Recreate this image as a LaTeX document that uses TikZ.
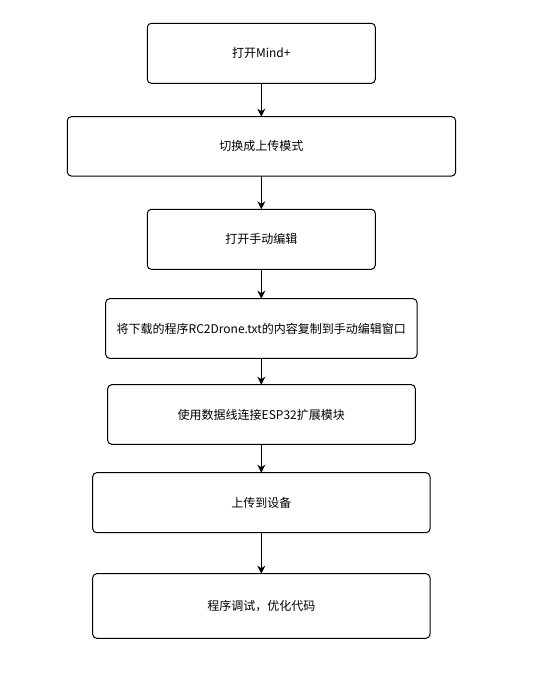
\documentclass[tikz,border=0pt]{standalone}
\usepackage{fontspec}
\setmainfont{Noto Sans CJK SC}
\usetikzlibrary{arrows.meta}
\begin{document}
\begin{tikzpicture}[x=1pt,y=-1pt,
  box/.style={draw=black, line width=1pt, rounded corners=4pt, fill=white},
  lbl/.style={font=\fontsize{12}{14}\selectfont, text=black},
  arr/.style={draw=black, line width=1pt, -{Stealth[length=8pt,width=8pt,inset=2.5pt]}}]
\useasboundingbox (0,0) rectangle (535,680);
\fill[white] (0,0) rectangle (535,680);
\draw[box] (147.3,23.3) rectangle (375.3,83.3);
\node[lbl] (n1) at (261.3,53.3) {打开Mind+};
\coordinate (b1t) at (261.3,23.3); \coordinate (b1b) at (261.3,83.3);
\draw[box] (67.3,116.7) rectangle (455.7,176);
\node[lbl] (n2) at (261.3,146.3) {切换成上传模式};
\coordinate (b2t) at (261.3,116.7); \coordinate (b2b) at (261.3,176);
\draw[box] (147.3,209.3) rectangle (375.3,269.3);
\node[lbl] (n3) at (261.3,239.3) {打开手动编辑};
\coordinate (b3t) at (261.3,209.3); \coordinate (b3b) at (261.3,269.3);
\draw[box] (105.7,298.7) rectangle (417,358.3);
\node[lbl] (n4) at (261.3,328.5) {将下载的程序RC2Drone.txt的内容复制到手动编辑窗口};
\coordinate (b4t) at (261.3,298.7); \coordinate (b4b) at (261.3,358.3);
\draw[box] (107.7,384.7) rectangle (415.3,444.3);
\node[lbl] (n5) at (261.3,414.5) {使用数据线连接ESP32扩展模块};
\coordinate (b5t) at (261.3,384.7); \coordinate (b5b) at (261.3,444.3);
\draw[box] (92.7,472.7) rectangle (430,532.7);
\node[lbl] (n6) at (261.3,502.7) {上传到设备};
\coordinate (b6t) at (261.3,472.7); \coordinate (b6b) at (261.3,532.7);
\draw[box] (92.7,573.7) rectangle (430,638.3);
\node[lbl] (n7) at (261.3,606) {程序调试，优化代码};
\coordinate (b7t) at (261.3,573.7);
\draw[arr] (b1b) -- (b2t);
\draw[arr] (b2b) -- (b3t);
\draw[arr] (b3b) -- (b4t);
\draw[arr] (b4b) -- (b5t);
\draw[arr] (b5b) -- (b6t);
\draw[arr] (b6b) -- (b7t);
\end{tikzpicture}
\end{document}
